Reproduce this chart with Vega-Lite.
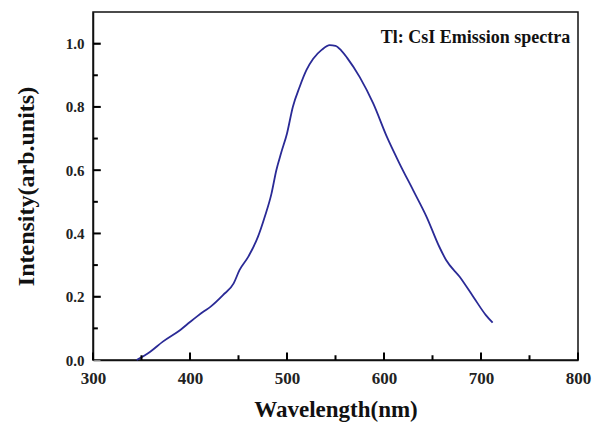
{
  "$schema": "https://vega.github.io/schema/vega-lite/v6.json",
  "width": 485,
  "height": 348,
  "autosize": "none",
  "padding": {"left": 93, "top": 12, "right": 17, "bottom": 66},
  "background": "white",
  "config": {
    "view": {"stroke": "#111", "strokeWidth": 1.5},
    "axis": {
      "domainColor": "#111",
      "domainWidth": 1.5,
      "grid": false,
      "labelFont": "Liberation Serif",
      "labelFontWeight": "bold",
      "labelColor": "#222",
      "titleFont": "Liberation Serif",
      "titleFontWeight": "bold",
      "titleColor": "#111",
      "labelFlush": false,
      "labelOverlap": false
    }
  },
  "layer": [
    {
      "data": {
        "values": [
          {"wavelength": 345, "intensity": 0.0},
          {"wavelength": 359, "intensity": 0.026},
          {"wavelength": 372, "intensity": 0.058},
          {"wavelength": 390, "intensity": 0.095},
          {"wavelength": 400, "intensity": 0.12},
          {"wavelength": 407, "intensity": 0.137},
          {"wavelength": 414, "intensity": 0.153},
          {"wavelength": 421, "intensity": 0.168},
          {"wavelength": 434, "intensity": 0.205},
          {"wavelength": 445, "intensity": 0.242},
          {"wavelength": 451, "intensity": 0.284},
          {"wavelength": 460, "intensity": 0.326},
          {"wavelength": 470, "intensity": 0.389},
          {"wavelength": 477, "intensity": 0.452},
          {"wavelength": 484, "intensity": 0.526},
          {"wavelength": 489, "intensity": 0.6},
          {"wavelength": 494, "intensity": 0.655},
          {"wavelength": 500, "intensity": 0.716},
          {"wavelength": 506, "intensity": 0.8},
          {"wavelength": 513, "intensity": 0.863},
          {"wavelength": 520, "intensity": 0.916},
          {"wavelength": 527, "intensity": 0.952},
          {"wavelength": 536, "intensity": 0.981},
          {"wavelength": 544, "intensity": 0.995},
          {"wavelength": 550, "intensity": 0.993},
          {"wavelength": 556, "intensity": 0.978},
          {"wavelength": 562, "intensity": 0.955},
          {"wavelength": 575, "intensity": 0.894},
          {"wavelength": 589, "intensity": 0.81},
          {"wavelength": 603, "intensity": 0.705},
          {"wavelength": 616, "intensity": 0.621},
          {"wavelength": 630, "intensity": 0.537},
          {"wavelength": 644, "intensity": 0.452},
          {"wavelength": 657, "intensity": 0.358},
          {"wavelength": 664, "intensity": 0.316},
          {"wavelength": 678, "intensity": 0.263},
          {"wavelength": 692, "intensity": 0.2},
          {"wavelength": 705, "intensity": 0.142},
          {"wavelength": 712, "intensity": 0.118}
        ]
      },
      "mark": {"type": "line", "color": "#2a2a96", "strokeWidth": 1.8, "interpolate": "monotone"},
      "encoding": {
        "x": {
          "field": "wavelength",
          "type": "quantitative",
          "scale": {"domain": [300, 800], "nice": false, "zero": false},
          "axis": {
            "tickSize": -7,
            "title": "Wavelength(nm)",
            "titleFontSize": 23,
            "titlePadding": 12,
            "values": [300, 400, 500, 600, 700, 800],
            "labelFontSize": 17,
            "labelPadding": 17
          }
        },
        "y": {
          "field": "intensity",
          "type": "quantitative",
          "scale": {"domain": [0, 1.1], "nice": false},
          "axis": {
            "tickSize": -7,
            "title": "Intensity(arb.units)",
            "titleFontSize": 24,
            "titlePadding": 27,
            "values": [0, 0.2, 0.4, 0.6, 0.8, 1.0],
            "format": ".1f",
            "labelFontSize": 15,
            "labelPadding": 16
          }
        }
      }
    },
    {
      "data": {"values": [{"v": 300}, {"v": 400}, {"v": 500}, {"v": 600}, {"v": 700}, {"v": 800}]},
      "mark": {"type": "rule", "color": "black", "strokeWidth": 2},
      "encoding": {
        "x": {"field": "v", "type": "quantitative"},
        "y": {"datum": 0},
        "y2": {"datum": 0.024}
      }
    },
    {
      "data": {"values": [{"v": 350}, {"v": 450}, {"v": 550}, {"v": 650}, {"v": 750}]},
      "mark": {"type": "rule", "color": "black", "strokeWidth": 2},
      "encoding": {
        "x": {"field": "v", "type": "quantitative"},
        "y": {"datum": 0},
        "y2": {"datum": 0.015}
      }
    },
    {
      "data": {"values": [{"v": 0.2}, {"v": 0.4}, {"v": 0.6}, {"v": 0.8}, {"v": 1.0}]},
      "mark": {"type": "rule", "color": "black", "strokeWidth": 2},
      "encoding": {
        "y": {"field": "v", "type": "quantitative"},
        "x": {"datum": 300},
        "x2": {"datum": 308}
      }
    },
    {
      "data": {"values": [{"v": 0.1}, {"v": 0.3}, {"v": 0.5}, {"v": 0.7}, {"v": 0.9}]},
      "mark": {"type": "rule", "color": "black", "strokeWidth": 2},
      "encoding": {
        "y": {"field": "v", "type": "quantitative"},
        "x": {"datum": 300},
        "x2": {"datum": 305}
      }
    },
    {
      "data": {"values": [{"label": "Tl: CsI Emission spectra"}]},
      "mark": {"type": "text", "align": "right", "baseline": "middle", "font": "Liberation Serif", "fontWeight": "bold", "fontSize": 18, "color": "#111"},
      "encoding": {
        "x": {"datum": 792},
        "y": {"datum": 1.018},
        "text": {"field": "label"}
      }
    }
  ]
}
